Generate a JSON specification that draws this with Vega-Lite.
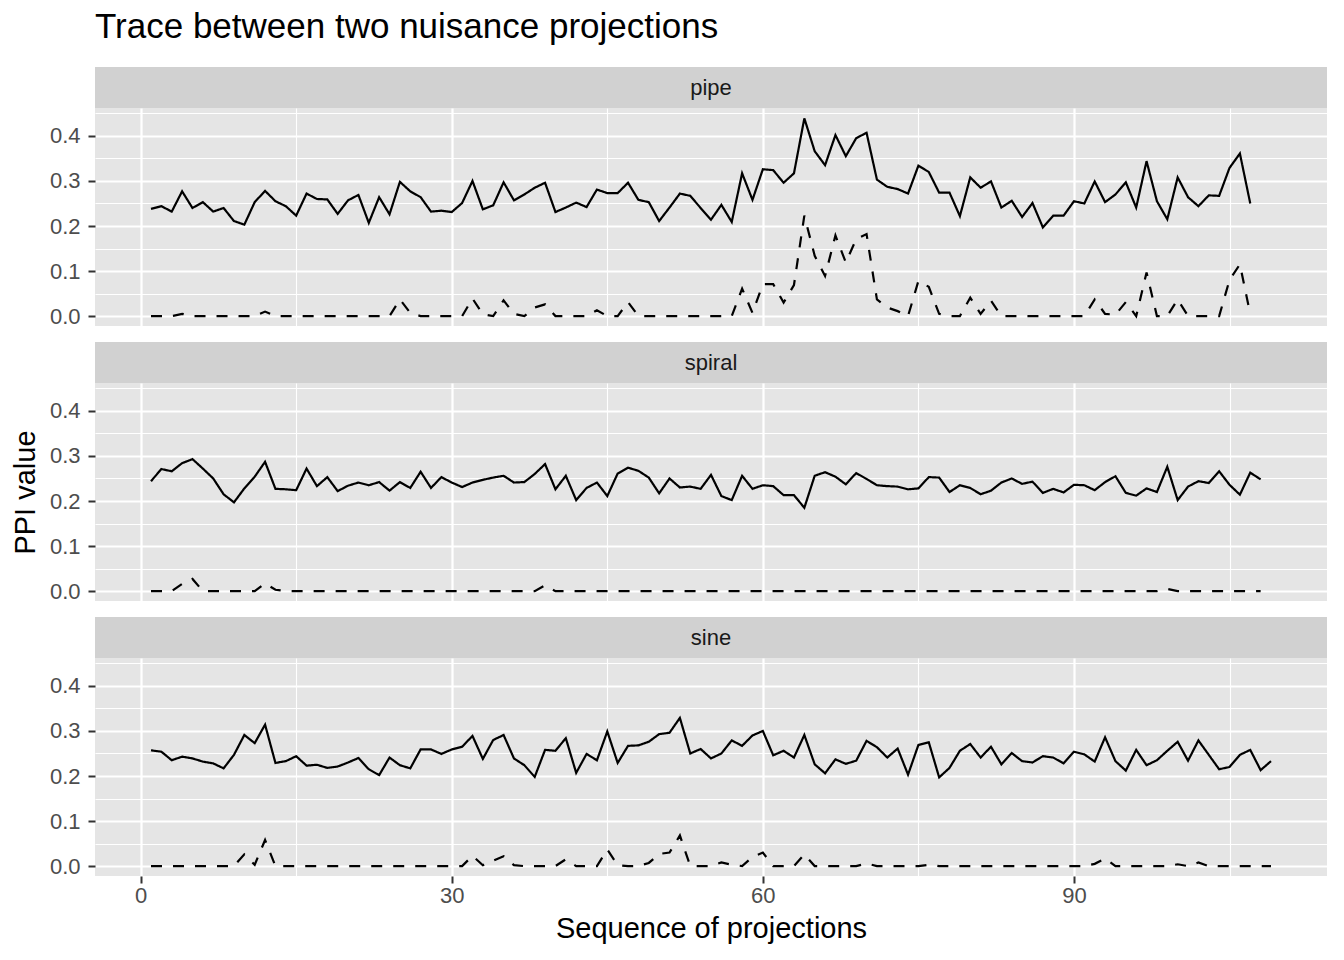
{
  "$schema": "https://vega.github.io/schema/vega-lite/v6.json",
  "padding": {"left": 11, "top": 10, "right": 16, "bottom": 8},
  "spacing": 0,
  "config": {
    "font": "Liberation Sans",
    "view": {"stroke": null},
    "axis": {"gridColor": "white", "domain": false, "labelColor": "#4D4D4D", "tickColor": "#333333", "titleColor": "black", "titleFontWeight": "normal"}
  },
  "datasets": {
    "ppi": [
      {"panel":"pipe","x":1,"p1":0.238,"p2":0},{"panel":"pipe","x":2,"p1":0.244,"p2":0},{"panel":"pipe","x":3,"p1":0.232,"p2":0},{"panel":"pipe","x":4,"p1":0.277,"p2":0.005},{"panel":"pipe","x":5,"p1":0.240,"p2":0},
      {"panel":"pipe","x":6,"p1":0.253,"p2":0},{"panel":"pipe","x":7,"p1":0.232,"p2":0},{"panel":"pipe","x":8,"p1":0.240,"p2":0},{"panel":"pipe","x":9,"p1":0.211,"p2":0},{"panel":"pipe","x":10,"p1":0.203,"p2":0},
      {"panel":"pipe","x":11,"p1":0.253,"p2":0},{"panel":"pipe","x":12,"p1":0.278,"p2":0.01},{"panel":"pipe","x":13,"p1":0.255,"p2":0},{"panel":"pipe","x":14,"p1":0.244,"p2":0},{"panel":"pipe","x":15,"p1":0.223,"p2":0},
      {"panel":"pipe","x":16,"p1":0.272,"p2":0},{"panel":"pipe","x":17,"p1":0.260,"p2":0},{"panel":"pipe","x":18,"p1":0.259,"p2":0},{"panel":"pipe","x":19,"p1":0.227,"p2":0},{"panel":"pipe","x":20,"p1":0.257,"p2":0},
      {"panel":"pipe","x":21,"p1":0.269,"p2":0},{"panel":"pipe","x":22,"p1":0.207,"p2":0},{"panel":"pipe","x":23,"p1":0.264,"p2":0},{"panel":"pipe","x":24,"p1":0.226,"p2":0},{"panel":"pipe","x":25,"p1":0.298,"p2":0.037},
      {"panel":"pipe","x":26,"p1":0.277,"p2":0.007},{"panel":"pipe","x":27,"p1":0.264,"p2":0},{"panel":"pipe","x":28,"p1":0.232,"p2":0},{"panel":"pipe","x":29,"p1":0.234,"p2":0},{"panel":"pipe","x":30,"p1":0.231,"p2":0},
      {"panel":"pipe","x":31,"p1":0.251,"p2":0},{"panel":"pipe","x":32,"p1":0.300,"p2":0.039},{"panel":"pipe","x":33,"p1":0.237,"p2":0.004},{"panel":"pipe","x":34,"p1":0.246,"p2":0},{"panel":"pipe","x":35,"p1":0.297,"p2":0.035},
      {"panel":"pipe","x":36,"p1":0.257,"p2":0.005},{"panel":"pipe","x":37,"p1":0.270,"p2":0},{"panel":"pipe","x":38,"p1":0.285,"p2":0.019},{"panel":"pipe","x":39,"p1":0.296,"p2":0.026},{"panel":"pipe","x":40,"p1":0.231,"p2":0},
      {"panel":"pipe","x":41,"p1":0.241,"p2":0},{"panel":"pipe","x":42,"p1":0.252,"p2":0},{"panel":"pipe","x":43,"p1":0.242,"p2":0},{"panel":"pipe","x":44,"p1":0.281,"p2":0.013},{"panel":"pipe","x":45,"p1":0.273,"p2":0},
      {"panel":"pipe","x":46,"p1":0.273,"p2":0},{"panel":"pipe","x":47,"p1":0.296,"p2":0.031},{"panel":"pipe","x":48,"p1":0.258,"p2":0},{"panel":"pipe","x":49,"p1":0.253,"p2":0},{"panel":"pipe","x":50,"p1":0.211,"p2":0},
      {"panel":"pipe","x":51,"p1":0.241,"p2":0},{"panel":"pipe","x":52,"p1":0.272,"p2":0},{"panel":"pipe","x":53,"p1":0.267,"p2":0},{"panel":"pipe","x":54,"p1":0.240,"p2":0},{"panel":"pipe","x":55,"p1":0.214,"p2":0},
      {"panel":"pipe","x":56,"p1":0.247,"p2":0},{"panel":"pipe","x":57,"p1":0.209,"p2":0},{"panel":"pipe","x":58,"p1":0.317,"p2":0.061},{"panel":"pipe","x":59,"p1":0.258,"p2":0.007},{"panel":"pipe","x":60,"p1":0.326,"p2":0.071},
      {"panel":"pipe","x":61,"p1":0.324,"p2":0.071},{"panel":"pipe","x":62,"p1":0.296,"p2":0.03},{"panel":"pipe","x":63,"p1":0.317,"p2":0.069},{"panel":"pipe","x":64,"p1":0.439,"p2":0.223},{"panel":"pipe","x":65,"p1":0.366,"p2":0.134},
      {"panel":"pipe","x":66,"p1":0.335,"p2":0.089},{"panel":"pipe","x":67,"p1":0.402,"p2":0.179},{"panel":"pipe","x":68,"p1":0.355,"p2":0.119},{"panel":"pipe","x":69,"p1":0.395,"p2":0.171},{"panel":"pipe","x":70,"p1":0.407,"p2":0.182},
      {"panel":"pipe","x":71,"p1":0.303,"p2":0.037},{"panel":"pipe","x":72,"p1":0.287,"p2":0.019},{"panel":"pipe","x":73,"p1":0.282,"p2":0.011},{"panel":"pipe","x":74,"p1":0.272,"p2":0},{"panel":"pipe","x":75,"p1":0.334,"p2":0.078},
      {"panel":"pipe","x":76,"p1":0.320,"p2":0.065},{"panel":"pipe","x":77,"p1":0.274,"p2":0.005},{"panel":"pipe","x":78,"p1":0.274,"p2":0},{"panel":"pipe","x":79,"p1":0.222,"p2":0},{"panel":"pipe","x":80,"p1":0.308,"p2":0.041},
      {"panel":"pipe","x":81,"p1":0.285,"p2":0.005},{"panel":"pipe","x":82,"p1":0.299,"p2":0.034},{"panel":"pipe","x":83,"p1":0.241,"p2":0},{"panel":"pipe","x":84,"p1":0.256,"p2":0},{"panel":"pipe","x":85,"p1":0.220,"p2":0},
      {"panel":"pipe","x":86,"p1":0.251,"p2":0},{"panel":"pipe","x":87,"p1":0.197,"p2":0},{"panel":"pipe","x":88,"p1":0.223,"p2":0},{"panel":"pipe","x":89,"p1":0.223,"p2":0},{"panel":"pipe","x":90,"p1":0.255,"p2":0},
      {"panel":"pipe","x":91,"p1":0.250,"p2":0},{"panel":"pipe","x":92,"p1":0.299,"p2":0.037},{"panel":"pipe","x":93,"p1":0.253,"p2":0.005},{"panel":"pipe","x":94,"p1":0.270,"p2":0.003},{"panel":"pipe","x":95,"p1":0.297,"p2":0.031},
      {"panel":"pipe","x":96,"p1":0.241,"p2":0},{"panel":"pipe","x":97,"p1":0.344,"p2":0.097},{"panel":"pipe","x":98,"p1":0.255,"p2":0},{"panel":"pipe","x":99,"p1":0.215,"p2":0},{"panel":"pipe","x":100,"p1":0.308,"p2":0.037},
      {"panel":"pipe","x":101,"p1":0.264,"p2":0},{"panel":"pipe","x":102,"p1":0.244,"p2":0},{"panel":"pipe","x":103,"p1":0.268,"p2":0},{"panel":"pipe","x":104,"p1":0.267,"p2":0},{"panel":"pipe","x":105,"p1":0.329,"p2":0.08},
      {"panel":"pipe","x":106,"p1":0.361,"p2":0.115},{"panel":"pipe","x":107,"p1":0.250,"p2":0.004},

      {"panel":"spiral","x":1,"p1":0.244,"p2":0},{"panel":"spiral","x":2,"p1":0.271,"p2":0},{"panel":"spiral","x":3,"p1":0.266,"p2":0},{"panel":"spiral","x":4,"p1":0.284,"p2":0.016},{"panel":"spiral","x":5,"p1":0.293,"p2":0.027},
      {"panel":"spiral","x":6,"p1":0.272,"p2":0},{"panel":"spiral","x":7,"p1":0.250,"p2":0},{"panel":"spiral","x":8,"p1":0.215,"p2":0},{"panel":"spiral","x":9,"p1":0.197,"p2":0},{"panel":"spiral","x":10,"p1":0.228,"p2":0},
      {"panel":"spiral","x":11,"p1":0.254,"p2":0},{"panel":"spiral","x":12,"p1":0.287,"p2":0.017},{"panel":"spiral","x":13,"p1":0.227,"p2":0.003},{"panel":"spiral","x":14,"p1":0.226,"p2":0},{"panel":"spiral","x":15,"p1":0.224,"p2":0},
      {"panel":"spiral","x":16,"p1":0.272,"p2":0},{"panel":"spiral","x":17,"p1":0.233,"p2":0},{"panel":"spiral","x":18,"p1":0.253,"p2":0},{"panel":"spiral","x":19,"p1":0.222,"p2":0},{"panel":"spiral","x":20,"p1":0.234,"p2":0},
      {"panel":"spiral","x":21,"p1":0.241,"p2":0},{"panel":"spiral","x":22,"p1":0.235,"p2":0},{"panel":"spiral","x":23,"p1":0.242,"p2":0},{"panel":"spiral","x":24,"p1":0.223,"p2":0},{"panel":"spiral","x":25,"p1":0.242,"p2":0},
      {"panel":"spiral","x":26,"p1":0.229,"p2":0},{"panel":"spiral","x":27,"p1":0.265,"p2":0},{"panel":"spiral","x":28,"p1":0.229,"p2":0},{"panel":"spiral","x":29,"p1":0.253,"p2":0},{"panel":"spiral","x":30,"p1":0.241,"p2":0},
      {"panel":"spiral","x":31,"p1":0.231,"p2":0},{"panel":"spiral","x":32,"p1":0.241,"p2":0},{"panel":"spiral","x":33,"p1":0.247,"p2":0},{"panel":"spiral","x":34,"p1":0.252,"p2":0},{"panel":"spiral","x":35,"p1":0.256,"p2":0},
      {"panel":"spiral","x":36,"p1":0.241,"p2":0},{"panel":"spiral","x":37,"p1":0.242,"p2":0},{"panel":"spiral","x":38,"p1":0.260,"p2":0},{"panel":"spiral","x":39,"p1":0.282,"p2":0.013},{"panel":"spiral","x":40,"p1":0.226,"p2":0},
      {"panel":"spiral","x":41,"p1":0.256,"p2":0},{"panel":"spiral","x":42,"p1":0.202,"p2":0},{"panel":"spiral","x":43,"p1":0.229,"p2":0},{"panel":"spiral","x":44,"p1":0.241,"p2":0},{"panel":"spiral","x":45,"p1":0.211,"p2":0},
      {"panel":"spiral","x":46,"p1":0.261,"p2":0},{"panel":"spiral","x":47,"p1":0.274,"p2":0},{"panel":"spiral","x":48,"p1":0.267,"p2":0},{"panel":"spiral","x":49,"p1":0.252,"p2":0},{"panel":"spiral","x":50,"p1":0.217,"p2":0},
      {"panel":"spiral","x":51,"p1":0.250,"p2":0},{"panel":"spiral","x":52,"p1":0.230,"p2":0},{"panel":"spiral","x":53,"p1":0.232,"p2":0},{"panel":"spiral","x":54,"p1":0.227,"p2":0},{"panel":"spiral","x":55,"p1":0.258,"p2":0},
      {"panel":"spiral","x":56,"p1":0.211,"p2":0},{"panel":"spiral","x":57,"p1":0.202,"p2":0},{"panel":"spiral","x":58,"p1":0.256,"p2":0},{"panel":"spiral","x":59,"p1":0.227,"p2":0},{"panel":"spiral","x":60,"p1":0.235,"p2":0},
      {"panel":"spiral","x":61,"p1":0.233,"p2":0},{"panel":"spiral","x":62,"p1":0.213,"p2":0},{"panel":"spiral","x":63,"p1":0.213,"p2":0},{"panel":"spiral","x":64,"p1":0.185,"p2":0},{"panel":"spiral","x":65,"p1":0.256,"p2":0},
      {"panel":"spiral","x":66,"p1":0.264,"p2":0},{"panel":"spiral","x":67,"p1":0.254,"p2":0},{"panel":"spiral","x":68,"p1":0.237,"p2":0},{"panel":"spiral","x":69,"p1":0.262,"p2":0},{"panel":"spiral","x":70,"p1":0.249,"p2":0},
      {"panel":"spiral","x":71,"p1":0.235,"p2":0},{"panel":"spiral","x":72,"p1":0.233,"p2":0},{"panel":"spiral","x":73,"p1":0.232,"p2":0},{"panel":"spiral","x":74,"p1":0.226,"p2":0},{"panel":"spiral","x":75,"p1":0.228,"p2":0},
      {"panel":"spiral","x":76,"p1":0.253,"p2":0},{"panel":"spiral","x":77,"p1":0.252,"p2":0},{"panel":"spiral","x":78,"p1":0.220,"p2":0},{"panel":"spiral","x":79,"p1":0.235,"p2":0},{"panel":"spiral","x":80,"p1":0.229,"p2":0},
      {"panel":"spiral","x":81,"p1":0.215,"p2":0},{"panel":"spiral","x":82,"p1":0.223,"p2":0},{"panel":"spiral","x":83,"p1":0.241,"p2":0},{"panel":"spiral","x":84,"p1":0.250,"p2":0},{"panel":"spiral","x":85,"p1":0.238,"p2":0},
      {"panel":"spiral","x":86,"p1":0.243,"p2":0},{"panel":"spiral","x":87,"p1":0.218,"p2":0},{"panel":"spiral","x":88,"p1":0.227,"p2":0},{"panel":"spiral","x":89,"p1":0.219,"p2":0},{"panel":"spiral","x":90,"p1":0.236,"p2":0},
      {"panel":"spiral","x":91,"p1":0.235,"p2":0},{"panel":"spiral","x":92,"p1":0.224,"p2":0},{"panel":"spiral","x":93,"p1":0.242,"p2":0},{"panel":"spiral","x":94,"p1":0.255,"p2":0},{"panel":"spiral","x":95,"p1":0.218,"p2":0},
      {"panel":"spiral","x":96,"p1":0.212,"p2":0},{"panel":"spiral","x":97,"p1":0.228,"p2":0},{"panel":"spiral","x":98,"p1":0.220,"p2":0},{"panel":"spiral","x":99,"p1":0.276,"p2":0.005},{"panel":"spiral","x":100,"p1":0.202,"p2":0},
      {"panel":"spiral","x":101,"p1":0.232,"p2":0},{"panel":"spiral","x":102,"p1":0.244,"p2":0},{"panel":"spiral","x":103,"p1":0.240,"p2":0},{"panel":"spiral","x":104,"p1":0.266,"p2":0},{"panel":"spiral","x":105,"p1":0.236,"p2":0},
      {"panel":"spiral","x":106,"p1":0.214,"p2":0},{"panel":"spiral","x":107,"p1":0.263,"p2":0},{"panel":"spiral","x":108,"p1":0.248,"p2":0},

      {"panel":"sine","x":1,"p1":0.257,"p2":0},{"panel":"sine","x":2,"p1":0.254,"p2":0},{"panel":"sine","x":3,"p1":0.235,"p2":0},{"panel":"sine","x":4,"p1":0.243,"p2":0},{"panel":"sine","x":5,"p1":0.239,"p2":0},
      {"panel":"sine","x":6,"p1":0.232,"p2":0},{"panel":"sine","x":7,"p1":0.228,"p2":0},{"panel":"sine","x":8,"p1":0.217,"p2":0},{"panel":"sine","x":9,"p1":0.247,"p2":0},{"panel":"sine","x":10,"p1":0.291,"p2":0.026},
      {"panel":"sine","x":11,"p1":0.273,"p2":0.003},{"panel":"sine","x":12,"p1":0.314,"p2":0.058},{"panel":"sine","x":13,"p1":0.229,"p2":0},{"panel":"sine","x":14,"p1":0.233,"p2":0},{"panel":"sine","x":15,"p1":0.244,"p2":0},
      {"panel":"sine","x":16,"p1":0.223,"p2":0},{"panel":"sine","x":17,"p1":0.225,"p2":0},{"panel":"sine","x":18,"p1":0.218,"p2":0},{"panel":"sine","x":19,"p1":0.221,"p2":0},{"panel":"sine","x":20,"p1":0.230,"p2":0},
      {"panel":"sine","x":21,"p1":0.240,"p2":0},{"panel":"sine","x":22,"p1":0.215,"p2":0},{"panel":"sine","x":23,"p1":0.202,"p2":0},{"panel":"sine","x":24,"p1":0.241,"p2":0},{"panel":"sine","x":25,"p1":0.224,"p2":0},
      {"panel":"sine","x":26,"p1":0.217,"p2":0},{"panel":"sine","x":27,"p1":0.259,"p2":0},{"panel":"sine","x":28,"p1":0.259,"p2":0},{"panel":"sine","x":29,"p1":0.249,"p2":0},{"panel":"sine","x":30,"p1":0.259,"p2":0},
      {"panel":"sine","x":31,"p1":0.265,"p2":0},{"panel":"sine","x":32,"p1":0.289,"p2":0.023},{"panel":"sine","x":33,"p1":0.238,"p2":0.002},{"panel":"sine","x":34,"p1":0.280,"p2":0.012},{"panel":"sine","x":35,"p1":0.291,"p2":0.022},
      {"panel":"sine","x":36,"p1":0.239,"p2":0.002},{"panel":"sine","x":37,"p1":0.224,"p2":0},{"panel":"sine","x":38,"p1":0.198,"p2":0},{"panel":"sine","x":39,"p1":0.258,"p2":0},{"panel":"sine","x":40,"p1":0.256,"p2":0},
      {"panel":"sine","x":41,"p1":0.284,"p2":0.015},{"panel":"sine","x":42,"p1":0.207,"p2":0},{"panel":"sine","x":43,"p1":0.249,"p2":0},{"panel":"sine","x":44,"p1":0.235,"p2":0},{"panel":"sine","x":45,"p1":0.299,"p2":0.037},
      {"panel":"sine","x":46,"p1":0.229,"p2":0.002},{"panel":"sine","x":47,"p1":0.267,"p2":0},{"panel":"sine","x":48,"p1":0.268,"p2":0},{"panel":"sine","x":49,"p1":0.276,"p2":0.007},{"panel":"sine","x":50,"p1":0.293,"p2":0.027},
      {"panel":"sine","x":51,"p1":0.296,"p2":0.03},{"panel":"sine","x":52,"p1":0.329,"p2":0.068},{"panel":"sine","x":53,"p1":0.250,"p2":0},{"panel":"sine","x":54,"p1":0.260,"p2":0},{"panel":"sine","x":55,"p1":0.239,"p2":0},
      {"panel":"sine","x":56,"p1":0.250,"p2":0.008},{"panel":"sine","x":57,"p1":0.279,"p2":0.003},{"panel":"sine","x":58,"p1":0.267,"p2":0},{"panel":"sine","x":59,"p1":0.290,"p2":0.02},{"panel":"sine","x":60,"p1":0.300,"p2":0.03},
      {"panel":"sine","x":61,"p1":0.246,"p2":0},{"panel":"sine","x":62,"p1":0.256,"p2":0},{"panel":"sine","x":63,"p1":0.241,"p2":0},{"panel":"sine","x":64,"p1":0.291,"p2":0.026},{"panel":"sine","x":65,"p1":0.226,"p2":0},
      {"panel":"sine","x":66,"p1":0.206,"p2":0},{"panel":"sine","x":67,"p1":0.237,"p2":0},{"panel":"sine","x":68,"p1":0.227,"p2":0},{"panel":"sine","x":69,"p1":0.234,"p2":0},{"panel":"sine","x":70,"p1":0.278,"p2":0.006},
      {"panel":"sine","x":71,"p1":0.264,"p2":0},{"panel":"sine","x":72,"p1":0.241,"p2":0},{"panel":"sine","x":73,"p1":0.261,"p2":0},{"panel":"sine","x":74,"p1":0.203,"p2":0},{"panel":"sine","x":75,"p1":0.269,"p2":0},
      {"panel":"sine","x":76,"p1":0.275,"p2":0.003},{"panel":"sine","x":77,"p1":0.197,"p2":0},{"panel":"sine","x":78,"p1":0.218,"p2":0},{"panel":"sine","x":79,"p1":0.256,"p2":0},{"panel":"sine","x":80,"p1":0.271,"p2":0},
      {"panel":"sine","x":81,"p1":0.241,"p2":0},{"panel":"sine","x":82,"p1":0.265,"p2":0},{"panel":"sine","x":83,"p1":0.226,"p2":0},{"panel":"sine","x":84,"p1":0.251,"p2":0},{"panel":"sine","x":85,"p1":0.233,"p2":0},
      {"panel":"sine","x":86,"p1":0.230,"p2":0},{"panel":"sine","x":87,"p1":0.244,"p2":0},{"panel":"sine","x":88,"p1":0.241,"p2":0},{"panel":"sine","x":89,"p1":0.228,"p2":0},{"panel":"sine","x":90,"p1":0.254,"p2":0},
      {"panel":"sine","x":91,"p1":0.248,"p2":0},{"panel":"sine","x":92,"p1":0.232,"p2":0.005},{"panel":"sine","x":93,"p1":0.286,"p2":0.017},{"panel":"sine","x":94,"p1":0.233,"p2":0},{"panel":"sine","x":95,"p1":0.212,"p2":0},
      {"panel":"sine","x":96,"p1":0.258,"p2":0},{"panel":"sine","x":97,"p1":0.224,"p2":0},{"panel":"sine","x":98,"p1":0.235,"p2":0},{"panel":"sine","x":99,"p1":0.256,"p2":0},{"panel":"sine","x":100,"p1":0.276,"p2":0.004},
      {"panel":"sine","x":101,"p1":0.234,"p2":0},{"panel":"sine","x":102,"p1":0.279,"p2":0.008},{"panel":"sine","x":103,"p1":0.247,"p2":0},{"panel":"sine","x":104,"p1":0.215,"p2":0},{"panel":"sine","x":105,"p1":0.220,"p2":0},
      {"panel":"sine","x":106,"p1":0.247,"p2":0},{"panel":"sine","x":107,"p1":0.258,"p2":0},{"panel":"sine","x":108,"p1":0.213,"p2":0},{"panel":"sine","x":109,"p1":0.233,"p2":0}
    ]
  },
  "vconcat": [
    {
      "width": 1232, "height": 41,
      "title": {"text": "Trace between two nuisance projections", "anchor": "start", "frame": "group", "fontSize": 35, "fontWeight": "normal", "color": "black", "offset": 22},
      "view": {"fill": "#D1D1D1", "stroke": null},
      "data": {"values": [{"panel": "pipe"}]},
      "mark": {"type": "text", "fontSize": 22, "color": "#1A1A1A"},
      "encoding": {"text": {"field": "panel"}}
    },
    {
      "width": 1232, "height": 218,
      "view": {"fill": "#E5E5E5", "stroke": null},
      "data": {"name": "ppi"},
      "transform": [{"filter": "datum.panel === 'pipe'"}, {"fold": ["p1", "p2"], "as": ["projection", "ppi"]}],
      "mark": {"type": "line", "color": "black", "strokeWidth": 2.2},
      "encoding": {
        "x": {"field": "x", "type": "quantitative", "scale": {"domain": [-4.4, 114.4], "nice": false, "zero": false},
          "axis": {"values": [0, 15, 30, 45, 60, 75, 90, 105], "labels": false, "ticks": false, "title": null,
            "gridWidth": {"condition": {"test": "datum.value % 30 === 0", "value": 2.2}, "value": 1.1}}},
        "y": {"field": "ppi", "type": "quantitative", "scale": {"domain": [-0.022, 0.462], "nice": false, "zero": false},
          "axis": {"values": [0, 0.05, 0.1, 0.15, 0.2, 0.25, 0.3, 0.35, 0.4, 0.45], "title": null, "labelOverlap": false,
            "labelExpr": "round(datum.value * 20) % 2 === 0 ? format(datum.value, '.1f') : ''",
            "labelFontSize": {"condition": {"test": "round(datum.value * 20) % 2 === 0", "value": 22}, "value": 0},
            "labelPadding": 8, "tickSize": 7, "tickWidth": 2,
            "tickOpacity": {"condition": {"test": "round(datum.value * 20) % 2 === 0", "value": 1}, "value": 0},
            "gridWidth": {"condition": {"test": "round(datum.value * 20) % 2 === 0", "value": 2.2}, "value": 1.1}}},
        "strokeDash": {"field": "projection", "type": "nominal", "scale": {"domain": ["p1", "p2"], "range": [[1, 0], [11, 11]]}, "legend": null}
      }
    },
    {
      "width": 1232, "height": 14,
      "view": {"fill": null, "stroke": null},
      "data": {"values": []},
      "mark": "text",
      "encoding": {}
    },
    {
      "width": 1232, "height": 41,
      "view": {"fill": "#D1D1D1", "stroke": null},
      "data": {"values": [{"panel": "spiral"}]},
      "mark": {"type": "text", "fontSize": 22, "color": "#1A1A1A"},
      "encoding": {"text": {"field": "panel"}}
    },
    {
      "width": 1232, "height": 218,
      "view": {"fill": "#E5E5E5", "stroke": null},
      "data": {"name": "ppi"},
      "transform": [{"filter": "datum.panel === 'spiral'"}, {"fold": ["p1", "p2"], "as": ["projection", "ppi"]}],
      "mark": {"type": "line", "color": "black", "strokeWidth": 2.2},
      "encoding": {
        "x": {"field": "x", "type": "quantitative", "scale": {"domain": [-4.4, 114.4], "nice": false, "zero": false},
          "axis": {"values": [0, 15, 30, 45, 60, 75, 90, 105], "labels": false, "ticks": false, "title": null,
            "gridWidth": {"condition": {"test": "datum.value % 30 === 0", "value": 2.2}, "value": 1.1}}},
        "y": {"field": "ppi", "type": "quantitative", "scale": {"domain": [-0.022, 0.462], "nice": false, "zero": false},
          "axis": {"values": [0, 0.05, 0.1, 0.15, 0.2, 0.25, 0.3, 0.35, 0.4, 0.45], "title": "PPI value", "titleFontSize": 29, "titlePadding": 9, "labelOverlap": false,
            "labelExpr": "round(datum.value * 20) % 2 === 0 ? format(datum.value, '.1f') : ''",
            "labelFontSize": {"condition": {"test": "round(datum.value * 20) % 2 === 0", "value": 22}, "value": 0},
            "labelPadding": 8, "tickSize": 7, "tickWidth": 2,
            "tickOpacity": {"condition": {"test": "round(datum.value * 20) % 2 === 0", "value": 1}, "value": 0},
            "gridWidth": {"condition": {"test": "round(datum.value * 20) % 2 === 0", "value": 2.2}, "value": 1.1}}},
        "strokeDash": {"field": "projection", "type": "nominal", "scale": {"domain": ["p1", "p2"], "range": [[1, 0], [11, 11]]}, "legend": null}
      }
    },
    {
      "width": 1232, "height": 14,
      "view": {"fill": null, "stroke": null},
      "data": {"values": []},
      "mark": "text",
      "encoding": {}
    },
    {
      "width": 1232, "height": 41,
      "view": {"fill": "#D1D1D1", "stroke": null},
      "data": {"values": [{"panel": "sine"}]},
      "mark": {"type": "text", "fontSize": 22, "color": "#1A1A1A"},
      "encoding": {"text": {"field": "panel"}}
    },
    {
      "width": 1232, "height": 218,
      "view": {"fill": "#E5E5E5", "stroke": null},
      "data": {"name": "ppi"},
      "transform": [{"filter": "datum.panel === 'sine'"}, {"fold": ["p1", "p2"], "as": ["projection", "ppi"]}],
      "mark": {"type": "line", "color": "black", "strokeWidth": 2.2},
      "encoding": {
        "x": {"field": "x", "type": "quantitative", "scale": {"domain": [-4.4, 114.4], "nice": false, "zero": false},
          "axis": {"values": [0, 15, 30, 45, 60, 75, 90, 105], "title": "Sequence of projections", "titleFontSize": 29, "titlePadding": 8, "labelOverlap": false,
            "labelExpr": "datum.value % 30 === 0 ? datum.label : ''",
            "labelFontSize": {"condition": {"test": "datum.value % 30 === 0", "value": 22}, "value": 0},
            "labelPadding": 2, "tickSize": 7, "tickWidth": 2,
            "tickOpacity": {"condition": {"test": "datum.value % 30 === 0", "value": 1}, "value": 0},
            "gridWidth": {"condition": {"test": "datum.value % 30 === 0", "value": 2.2}, "value": 1.1}}},
        "y": {"field": "ppi", "type": "quantitative", "scale": {"domain": [-0.022, 0.462], "nice": false, "zero": false},
          "axis": {"values": [0, 0.05, 0.1, 0.15, 0.2, 0.25, 0.3, 0.35, 0.4, 0.45], "title": null, "labelOverlap": false,
            "labelExpr": "round(datum.value * 20) % 2 === 0 ? format(datum.value, '.1f') : ''",
            "labelFontSize": {"condition": {"test": "round(datum.value * 20) % 2 === 0", "value": 22}, "value": 0},
            "labelPadding": 8, "tickSize": 7, "tickWidth": 2,
            "tickOpacity": {"condition": {"test": "round(datum.value * 20) % 2 === 0", "value": 1}, "value": 0},
            "gridWidth": {"condition": {"test": "round(datum.value * 20) % 2 === 0", "value": 2.2}, "value": 1.1}}},
        "strokeDash": {"field": "projection", "type": "nominal", "scale": {"domain": ["p1", "p2"], "range": [[1, 0], [11, 11]]}, "legend": null}
      }
    }
  ]
}
